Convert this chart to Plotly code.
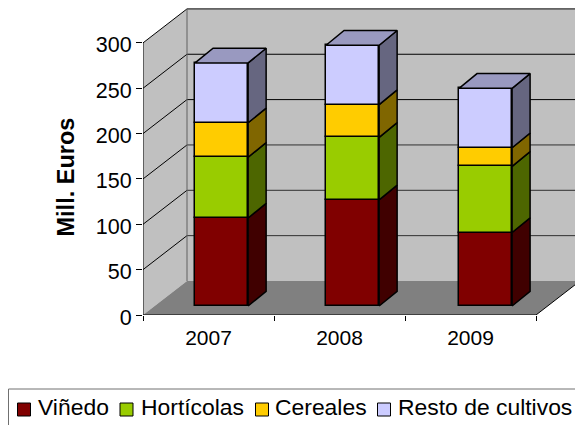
import plotly.graph_objects as go

categories = ["2007", "2008", "2009"]
vinedo = [97, 117, 81]
horticolas = [67, 69, 73]
cereales = [38, 36, 20.5]
resto = [66, 65.5, 65.5]
y_ticks = [0, 50, 100, 150, 200, 250, 300]

names = ["Viñedo", "Hortícolas", "Cereales", "Resto de cultivos"]
series = [vinedo, horticolas, cereales, resto]
front = ["#800000", "#99CC00", "#FFCC00", "#CCCCFF"]
side = ["#400000", "#4D6600", "#806600", "#666680"]
top_face = "#9999C0"

W, H = 575, 425
L, B0 = 143, 315
cat_px = 131.0
val_px = 0.907
xmax = (W - L) / cat_px
ymax = B0 / val_px

wall_dx, wall_dy = 44 / cat_px, 34 / val_px
gap_xs = [0.6, 0.6, 0.615]
gap_y = 9 / val_px
bar_w = 0.405
bar_dx, bar_dy = 18 / cat_px, 14.7 / val_px
n = len(categories)

def px(v):
    return (v - L) / (W - L)
def py(v):
    return (B0 - v) / B0

fig = go.Figure()

shapes = []
def poly(pts, fill):
    p = "M" + " L".join(f"{a},{b}" for a, b in pts) + " Z"
    shapes.append(dict(type="path", path=p, xref="x", yref="y", layer="below",
                       fillcolor=fill, line=dict(color=fill, width=0)))
poly([(0, 0), (wall_dx, wall_dy), (wall_dx, 300 + wall_dy), (0, 300)], "#C0C0C0")
poly([(wall_dx, wall_dy), (n + wall_dx, wall_dy), (n + wall_dx, 300 + wall_dy), (wall_dx, 300 + wall_dy)], "#C0C0C0")
poly([(0, 0), (n, 0), (n + wall_dx, wall_dy), (wall_dx, wall_dy)], "#808080")
for t in y_ticks:
    col = "#000000" if t >= 200 else "#303030"
    if t > 0:
        shapes.append(dict(type="line", xref="x", yref="y", layer="below", x0=0, y0=t,
                           x1=wall_dx, y1=t + wall_dy, line=dict(color="#000000", width=1)))
        shapes.append(dict(type="line", xref="x", yref="y", layer="below", x0=wall_dx, y0=t + wall_dy,
                           x1=n + wall_dx, y1=t + wall_dy, line=dict(color=col, width=1)))
shapes.append(dict(type="line", xref="x", yref="y", layer="below", x0=n, y0=0,
                   x1=n + wall_dx, y1=wall_dy, line=dict(color="#000000", width=1)))
shapes.append(dict(type="line", xref="x", yref="y", layer="below", x0=wall_dx, y0=wall_dy,
                   x1=wall_dx, y1=300 + wall_dy, line=dict(color="#606060", width=1)))

bases = [gap_y] * n
for name, vals, fc, sc in zip(names, series, front, side):
    xs = [i + gap_xs[i] for i in range(n)]
    fig.add_trace(go.Bar(x=xs, y=vals, base=list(bases), width=bar_w, name=name,
                         marker=dict(color=fc, line=dict(color="#000000", width=1.5)),
                         hoverinfo="skip", showlegend=False))
    for i in range(n):
        xr = xs[i] + bar_w / 2
        b0, b1 = bases[i], bases[i] + vals[i]
        fig.add_trace(go.Scatter(
            x=[xr, xr + bar_dx, xr + bar_dx, xr, xr],
            y=[b0, b0 + bar_dy, b1 + bar_dy, b1, b0],
            mode="lines", fill="toself", fillcolor=sc,
            line=dict(color="#000000", width=1.5), showlegend=False, hoverinfo="skip"))
    bases = [b + v for b, v in zip(bases, vals)]
for i in range(n):
    xl = i + gap_xs[i] - bar_w / 2
    xr = xl + bar_w
    b = bases[i]
    fig.add_trace(go.Scatter(
        x=[xl, xr, xr + bar_dx, xl + bar_dx, xl],
        y=[b, b, b + bar_dy, b + bar_dy, b],
        mode="lines", fill="toself", fillcolor=top_face,
        line=dict(color="#000000", width=1.5), showlegend=False, hoverinfo="skip"))

fig.add_trace(go.Scatter(x=[0, 0, n], y=[300, 0, 0], mode="lines", cliponaxis=False,
                         line=dict(color="#000000", width=1), showlegend=False, hoverinfo="skip"))

annotations = [dict(text="<b>Mill. Euros</b>", textangle=-90, xref="paper", yref="paper",
                    x=px(65.5), y=py(177), xanchor="center", yanchor="middle", showarrow=False,
                    font=dict(size=23.5))]
shapes.append(dict(type="rect", xref="paper", yref="paper", x0=px(8.5), x1=px(590),
                   y0=py(389), y1=py(440), fillcolor="#FFFFFF", line=dict(color="#707070", width=1)))
swatch_left = [17.5, 120, 255.5, 377.5]
text_left = [38, 141, 275, 398]
for sl, tl, nm, fc in zip(swatch_left, text_left, names, front):
    shapes.append(dict(type="rect", xref="paper", yref="paper", x0=px(sl), x1=px(sl + 13),
                       y0=py(403), y1=py(416), fillcolor=fc, line=dict(color="#000000", width=1)))
    annotations.append(dict(text=nm, xref="paper", yref="paper", x=px(tl), y=py(407),
                            xanchor="left", yanchor="middle", showarrow=False, xshift=-2,
                            font=dict(size=22.9)))

font = "Liberation Sans, Arial, sans-serif"
fig.update_layout(
    width=W, height=H, autosize=False,
    margin=dict(l=L, r=0, t=0, b=H - B0, pad=0, autoexpand=False),
    paper_bgcolor="#FFFFFF", plot_bgcolor="#FFFFFF",
    barmode="overlay", bargap=0,
    shapes=shapes, annotations=annotations,
    font=dict(family=font, size=21, color="#000000"),
    showlegend=False,
    xaxis=dict(range=[0, xmax], showgrid=False, zeroline=False, showline=False,
               tickmode="array", tickvals=[i + 0.5 for i in range(n)], ticktext=categories,
               ticks="", tickfont=dict(size=21), ticklabelstandoff=8,
               minor=dict(tickmode="array", tickvals=list(range(n + 1)), ticks="outside",
                          ticklen=5, tickcolor="#000000", tickwidth=1, showgrid=False)),
    yaxis=dict(range=[0, ymax], showgrid=False, zeroline=False, showline=False,
               tickmode="array", tickvals=y_ticks, ticks="outside", ticklen=6,
               tickcolor="#000000", tickwidth=1, tickfont=dict(size=21.5), ticklabelshift=2),
)
fig.write_html("out.html", config={"displayModeBar": False},
               post_script="document.body.style.margin='0';document.documentElement.style.overflow='hidden';")
